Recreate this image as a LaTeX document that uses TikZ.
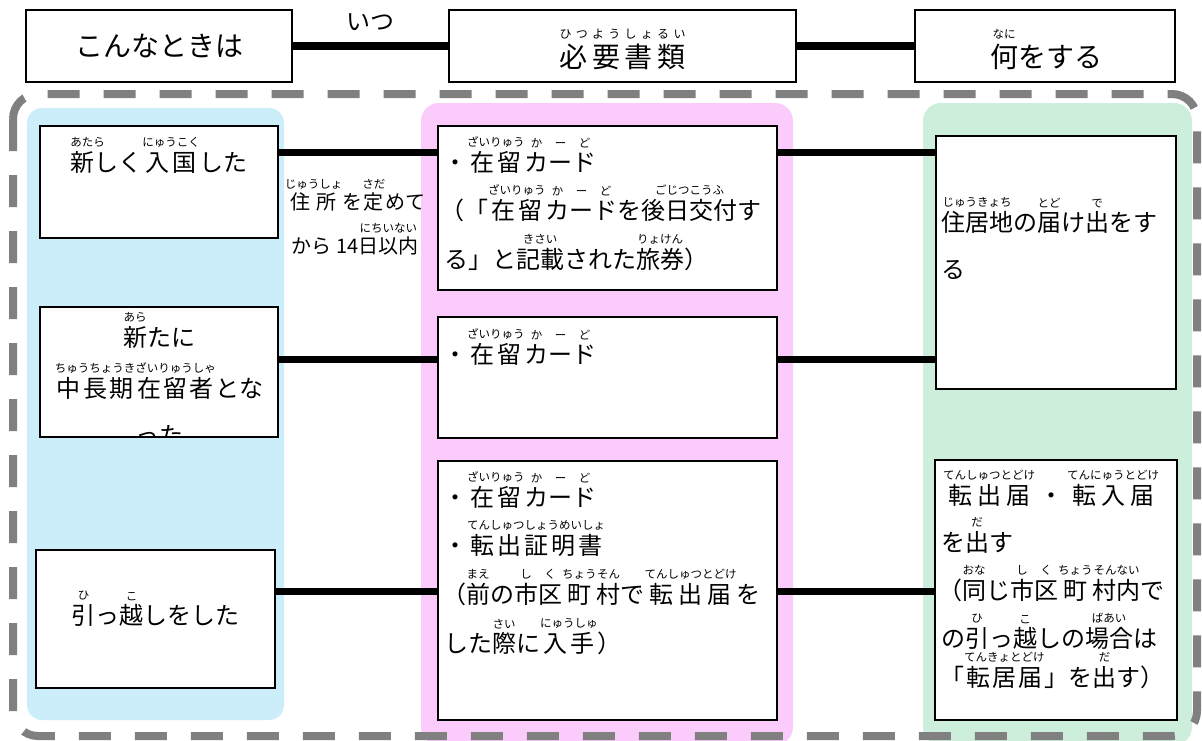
\documentclass[tikz,border=0pt]{standalone}
\usepackage{fontspec}
\setmainfont{Noto Sans CJK JP}
\newdimen\rbW
\newcommand\rubyfont{\fontsize{11.5}{11.5}\selectfont}
\newcommand\rb[2]{\leavevmode\setbox0\hbox{\rubyfont #2}\setbox2\hbox{#1}\rbW=\wd2\relax\ifdim\wd0>\rbW \rbW=\wd0\relax\fi\vbox{\offinterlineskip\hbox to\rbW{\hss\box0\hss}\kern.1em\hbox to\rbW{\vrule height .88em depth 0pt width 0pt\hfil #1\hfil}}}
\newcommand\rbo[2]{\leavevmode\setbox0\hbox{\rubyfont #2}\setbox2\hbox{#1}\rbW=\wd2\relax\vbox{\offinterlineskip\hbox to\rbW{\box0\hss}\kern.1em\hbox to\rbW{\vrule height .88em depth 0pt width 0pt\hfil #1\hfil}}}
\newcommand\rbw[3]{\leavevmode\vbox{\offinterlineskip\hbox to #1{\fontsize{12}{12}\selectfont #3}\kern.1em\hbox to #1{\vrule height .88em depth 0pt width 0pt #2}}}
\newcommand\basefs{\fontsize{24}{28}\selectfont}
\newcommand\headfs{\fontsize{28}{32}\selectfont}
\newcommand\midfs{\fontsize{20}{24}\selectfont}
\definecolor{colblue}{RGB}{204,238,250}
\definecolor{colpink}{RGB}{251,204,251}
\definecolor{colgreen}{RGB}{205,238,219}
\definecolor{bordergray}{RGB}{128,128,128}
\tikzset{
  box/.style={draw=black, line width=1.6pt, fill=white, inner sep=0pt},
  conn/.style={line width=7pt, black},
  hconn/.style={line width=8.5pt, black},
  txt/.style={inner sep=0pt, font=\basefs, anchor=base west},
  ctxt/.style={inner sep=0pt, font=\basefs, anchor=base},
  border/.style={draw=bordergray, line width=8pt, dash pattern=on 32pt off 24pt, rounded corners=25pt},
}
\begin{document}
\begin{tikzpicture}[x=1pt, y=-1pt]
\useasboundingbox (0,0) rectangle (1202,740);
\fill[white] (0,0) rectangle (1202,740);
% columns
\fill[colblue, rounded corners=15pt] (27,108) rectangle (284,720);
\fill[colpink, rounded corners=18pt] (421,103) rectangle (793,745);
\fill[colgreen, rounded corners=18pt] (923,103) rectangle (1192,745);
% dashed border
\draw[border] (13,94) rectangle (1197,736);
% header
\node[box, minimum width=266pt, minimum height=72pt, font=\headfs] (H1) at (159,46) {こんなときは};
\node[box, minimum width=347pt, minimum height=72pt] (H2) at (622.5,46) {};
\node[box, minimum width=260pt, minimum height=72pt] (H3) at (1045,46) {};
\node[inner sep=0pt, font=\headfs, anchor=base] (H2t) at (622.5,67) {\rbw{126pt}{必\hfil 要\hfil 書\hfil 類}{ひ\hfil つ\hfil よ\hfil う\hfil し\hfil ょ\hfil る\hfil い}};
\node[inner sep=0pt, font=\headfs, anchor=base] (H3t) at (1046,67) {\rb{何}{なに}をする};
\node[inner sep=0pt, font=\fontsize{24}{26}\selectfont] (itsu) at (370,22) {いつ};
\draw[hconn] (H1.east) -- (H2.west);
\draw[hconn] (H2.east) -- (H3.west);
% boxes
\node[box, minimum width=238pt, minimum height=112pt] (L1) at (159,182) {};
\node[box, minimum width=238pt, minimum height=130pt] (L2) at (159,372) {};
\node[box, minimum width=239pt, minimum height=138pt] (L3) at (155.5,619) {};
\node[box, minimum width=339pt, minimum height=164pt] (M1) at (607.5,208) {};
\node[box, minimum width=339pt, minimum height=121pt] (M2) at (607.5,377.5) {};
\node[box, minimum width=339pt, minimum height=259pt] (M3) at (607.5,590.5) {};
\node[box, minimum width=240pt, minimum height=253pt] (R1) at (1056,262.5) {};
\node[box, minimum width=242pt, minimum height=260pt] (R2) at (1056,590) {};
% connectors
\draw[conn] (L1.east |- 0,152) -- (M1.west |- 0,152);
\draw[conn] (M1.east |- 0,152) -- (R1.west |- 0,152);
\draw[conn] (L2.east |- 0,359) -- (M2.west |- 0,359);
\draw[conn] (M2.east |- 0,359) -- (R1.west |- 0,359);
\draw[conn] (L3.east |- 0,591) -- (M3.west |- 0,591);
\draw[conn] (M3.east |- 0,591) -- (R2.west |- 0,591);
% left texts
\node[ctxt] (L1a) at (159,171) {\rbo{新}{あたら}しく\rb{入\hfil 国}{にゅうこく}した};
\node[ctxt] (L2a) at (159,346) {\rb{新}{あら}たに};
\node[ctxt] (L2b) at (159,397) {\rb{中\hfil 長\hfil 期}{ちゅうちょうき}\rb{在\hfil 留\hfil 者}{ざいりゅうしゃ}とな};
\begin{scope}
\clip ([shift={(0.8pt,0.8pt)}]L2.south west) rectangle ([shift={(-0.8pt,-0.8pt)}]L2.north east);
\node[ctxt] (L2c) at (159,444) {った};
\end{scope}
\node[ctxt] (L3a) at (155.5,624) {\rb{引}{ひ}っ\rb{越}{こ}しをした};
% between
\node[ctxt, font=\midfs] (Wa) at (355,209) {\rb{住\hfil 所}{じゅうしょ}を\rb{定}{さだ}めて};
\node[ctxt, font=\midfs] (Wb) at (355,253) {から 14\rb{日\hfil 以\hfil 内}{にちいない}};
% middle texts
\node[txt] (M1a) at (443,171) {・\rb{在\hfil 留}{ざいりゅう}\rb{カ}{か}\rb{ー}{ー}\rb{ド}{ど}};
\node[txt] (M1b) at (440,219) {（「\rb{在\hfil 留}{ざいりゅう}\rb{カ}{か}\rb{ー}{ー}\rb{ド}{ど}を\rb{後日交付}{ごじつこうふ}す};
\node[txt] (M1c) at (444,268) {る」と\rb{記載}{きさい}された\rb{旅券}{りょけん}）};
\node[txt] (M2a) at (443,363) {・\rb{在\hfil 留}{ざいりゅう}\rb{カ}{か}\rb{ー}{ー}\rb{ド}{ど}};
\node[txt] (M3a) at (443,506) {・\rb{在\hfil 留}{ざいりゅう}\rb{カ}{か}\rb{ー}{ー}\rb{ド}{ど}};
\node[txt] (M3b) at (443,554) {・\rb{転\hfil 出\hfil 証\hfil 明\hfil 書}{てんしゅつしょうめいしょ}};
\node[txt] (M3c) at (442,603) {（\rb{前}{まえ}の\rb{市}{し}\rb{区}{く}\rb{町}{ちょう}\rb{村}{そん}で\rb{転\hfil 出\hfil 届}{てんしゅつとどけ}を};
\node[txt] (M3d) at (444,652) {した\rb{際}{さい}に\rb{入\hfil 手}{にゅうしゅ}）};
% right texts
\node[txt] (R1a) at (941,231) {\rb{住\hfil 居\hfil 地}{じゅうきょち}の\rb{届}{とど}け\rb{出}{で}をす};
\node[txt] (R1b) at (941,278) {る};
\node[txt] (R2a) at (943,504) {\rb{転\hfil 出\hfil 届}{てんしゅつとどけ}\kern4pt ・\kern4pt \rb{転\hfil 入\hfil 届}{てんにゅうとどけ}};
\node[txt] (R2b) at (941,551) {を\rb{出}{だ}す};
\node[txt] (R2c) at (938,599) {（\rb{同}{おな}じ\rb{市}{し}\rb{区}{く}\rb{町}{ちょう}\rb{村\hfil 内}{そんない}で};
\node[txt] (R2d) at (941,647) {の\rb{引}{ひ}っ\rb{越}{こ}しの\rb{場\hfil 合}{ばあい}は};
\node[txt] (R2e) at (940,686) {「\rb{転\hfil 居\hfil 届}{てんきょとどけ}」を\rb{出}{だ}す）};
\end{tikzpicture}
\end{document}
